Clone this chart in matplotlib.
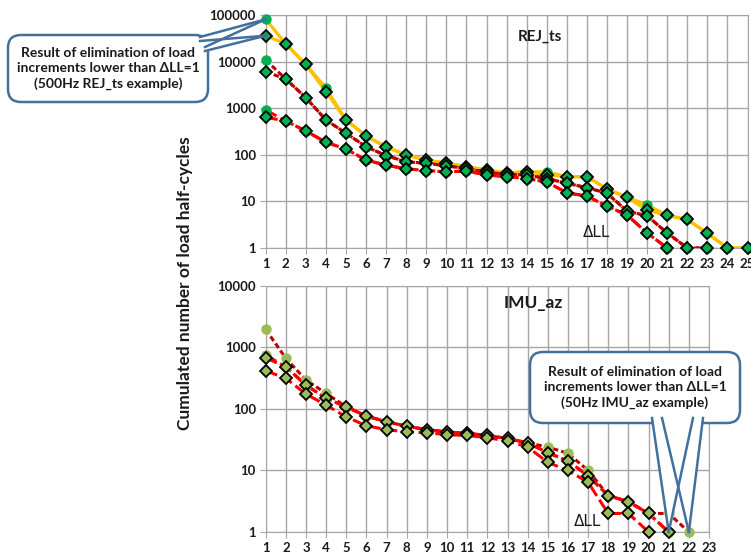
import numpy as np
import matplotlib
matplotlib.use("Agg")
import matplotlib.pyplot as plt
from matplotlib.patches import FancyBboxPatch, Polygon
from matplotlib.lines import Line2D
from matplotlib.transforms import IdentityTransform

plt.rcParams['font.family'] = ['Lato', 'DejaVu Sans']

# ---- REJ_ts (top panel) ----
rej_raw_a = [81000, 24000, 8700, 2700, 560, 253, 148, 99, 77, 66, 56, 47, 41, 43, 43,
             34, 34, 18.5, 12.2, 8.4, 5.0, 4.1, 2.07, 1, 1]
rej_flt_a = [36000, 24000, 8700, 2260, 560, 253, 148, 99, 77, 66, 56, 47, 41, 43, 37,
             34, 34, 18.5, 12.2, 6.5, 5.0, 4.1, 2.07, 1, 1]
rej_raw_b = [10800, 4230, 1680, 560, 290, 149, 96, 71, 66, 58, 51, 42, 38, 37, 31,
             24.5, 19.7, 15, 6.2, 4.9, 2.1, 1, 1]
rej_flt_b = [6070, 4230, 1680, 560, 290, 149, 96, 71, 66, 58, 51, 42, 38, 37, 31,
             24.5, 19.7, 15, 6.2, 4.9, 2.1, 1, 1]
rej_raw_c = [915, 530, 325, 185, 133, 77, 60, 50, 46, 43, 45, 37, 34, 31, 26,
             15.3, 13, 7.9, 5.1, 2.1, 1]
rej_flt_c = [640, 530, 325, 185, 133, 77, 60, 50, 46, 43, 45, 37, 34, 31, 26,
             15.3, 13, 7.9, 5.1, 2.1, 1]

# ---- IMU_az (bottom panel) ----
imu_raw_a = [1950, 660, 294, 178, 108, 76, 62, 52, 46, 42, 40, 37, 33, 28, 24,
             18.9, 10, 3.9, 3.1, 2.0, 2.0, 1]
imu_raw_b = [750, 480, 243, 148, 108, 76, 62, 52, 46, 42, 40, 37, 33, 28, 19.4,
             14.2, 8.2, 3.9, 3.1, 2.0, 1]
imu_flt_b = [675, 480, 243, 148, 108, 76, 62, 52, 46, 42, 40, 37, 33, 28, 19.4,
             14.2, 8.2, 3.9, 3.1, 2.0, 1]
imu_flt_c = [415, 313, 174, 115, 74, 53, 46, 42, 41, 38, 37, 34, 30, 24, 13.5,
             10, 6.4, 2.0, 2.0, 1]

top_ticks = [1, 10, 100, 1000, 10000, 100000]
bot_ticks = [1, 10, 100, 1000, 10000]

W, H = 751, 559
fig = plt.figure(figsize=(W / 100, H / 100), dpi=100)

GRID = '#a6a6a6'
TXT = '#1a1a1a'
ORANGE = '#ffc000'
DARKRED = '#c00000'
RED = '#ff0000'


def px_axes(x0, y0, x1, y1):
    # image pixel box (top-left origin) -> figure axes
    return fig.add_axes([x0 / W, 1 - y1 / H, (x1 - x0) / W, (y1 - y0) / H])


def style_axes(ax, nmax, yticks):
    ax.set_yscale('log')
    ax.set_xlim(1, nmax)
    ax.set_ylim(yticks[0], yticks[-1])
    ax.set_xticks(range(1, nmax + 1))
    ax.set_xticklabels([str(i) for i in range(1, nmax + 1)])
    ax.set_yticks(yticks)
    ax.set_yticklabels([str(v) for v in yticks])
    ax.yaxis.set_minor_locator(matplotlib.ticker.NullLocator())
    ax.grid(True, color=GRID, lw=1)
    ax.set_axisbelow(True)
    for s in ax.spines.values():
        s.set_color(GRID)
    ax.tick_params(length=4, color=GRID, labelcolor=TXT, labelsize=9.5, pad=3)
    for lab in ax.get_xticklabels() + ax.get_yticklabels():
        lab.set_fontweight('bold')


def draw(ax, vals, color, lw, dashes, marker, fc, z):
    x = np.arange(1, len(vals) + 1)
    if dashes is None:
        ax.plot(x, vals, color=color, lw=lw, solid_capstyle='round', zorder=2)
    else:
        ax.plot(x, vals, color=color, lw=lw, dashes=dashes, zorder=2)
    if marker == 'o':
        ax.plot(x, vals, ls='none', marker='o', ms=6.5, mfc=fc, mec=fc,
                zorder=z, clip_on=False)
    else:
        ax.plot(x, vals, ls='none', marker='D', ms=6.3, mfc=fc, mec='black',
                mew=1.3, zorder=z, clip_on=False)


ax1 = px_axes(265.7, 15, 747.5, 248)
style_axes(ax1, 25, top_ticks)
G1 = '#00b050'
draw(ax1, rej_raw_a, ORANGE, 2.3, None, 'o', G1, 4)
draw(ax1, rej_flt_a, ORANGE, 2.3, None, 'D', G1, 5)
draw(ax1, rej_raw_b, DARKRED, 2.2, (1.8, 1.0), 'o', G1, 4)
draw(ax1, rej_flt_b, DARKRED, 2.2, (1.8, 1.0), 'D', G1, 5)
draw(ax1, rej_raw_c, RED, 2.2, (4, 1.5), 'o', G1, 4)
draw(ax1, rej_flt_c, RED, 2.2, (4, 1.5), 'D', G1, 5)

ax2 = px_axes(265.7, 285.7, 709, 532)
style_axes(ax2, 23, bot_ticks)
G2 = '#9bbb59'
draw(ax2, imu_raw_a, DARKRED, 2.2, (1.8, 1.0), 'o', G2, 4)
draw(ax2, imu_raw_b, RED, 2.2, (4, 1.5), 'o', G2, 4)
draw(ax2, imu_flt_b, RED, 2.2, (4, 1.5), 'D', G2, 5)
draw(ax2, imu_flt_c, RED, 2.2, (4, 1.5), 'D', G2, 5)

fig.text(185 / W, 1 - 283 / H, 'Cumulated number of load half-cycles', rotation=90,
         ha='center', va='center', fontsize=12.5, fontweight='bold', color=TXT)
fig.text(540 / W, 1 - 37 / H, 'REJ_ts', ha='center', va='center', fontsize=11,
         fontweight='bold', color=TXT)
fig.text(533 / W, 1 - 303 / H, 'IMU_az', ha='center', va='center', fontsize=12.5,
         fontweight='bold', color=TXT)
fig.text(597 / W, 1 - 232 / H, 'ΔLL', ha='center', va='center', fontsize=11,
         color=TXT, family=['DejaVu Sans'])
fig.text(588 / W, 1 - 522 / H, 'ΔLL', ha='center', va='center', fontsize=11,
         color=TXT, family=['DejaVu Sans'])

BLUE = '#41719c'
ID = IdentityTransform()


def callout(x0, y0, x1, y1, text, wedges):
    # pixel box (top-left origin); wedges: list of (base pts, apex display pt)
    box = FancyBboxPatch((x0, H - y1), x1 - x0, y1 - y0,
                         boxstyle='round,pad=0,rounding_size=13', fc='white',
                         ec=BLUE, lw=1.8, transform=ID, zorder=10)
    fig.add_artist(box)
    for (bx0, by0), (bx1, by1), apex in wedges:
        p0 = (bx0, H - by0)
        p1 = (bx1, H - by1)
        poly = Polygon([p0, apex, p1], closed=True, fc='white', ec='none',
                       transform=ID, zorder=11)
        fig.add_artist(poly)
        for p in (p0, p1):
            fig.add_artist(Line2D([p[0], apex[0]], [p[1], apex[1]], color=BLUE,
                                  lw=1.8, transform=ID, zorder=12))
    fig.text(((x0 + x1) / 2) / W, 1 - ((y0 + y1) / 2) / H, text, ha='center',
             va='center', fontsize=10, fontweight='bold', color=TXT,
             linespacing=1.3, zorder=13)


a_circ = ax1.transData.transform((1, rej_raw_a[0]))
a_diam = ax1.transData.transform((1, rej_flt_a[0]))
callout(8, 35, 208, 102,
        'Result of elimination of load\nincrements lower than ΔLL=1\n(500Hz REJ_ts example)',
        [((200, 37), (205, 47), a_circ), ((200, 41), (205, 51), a_diam)])

b_diam = ax2.transData.transform((21, imu_flt_b[-1]))
b_circ = ax2.transData.transform((22, imu_raw_a[-1]))
callout(530, 352, 740, 423,
        'Result of elimination of load\nincrements lower than ΔLL=1\n(50Hz IMU_az example)',
        [((652, 418), (693, 418), b_diam), ((662, 418), (703, 418), b_circ)])

fig.savefig('out.png', dpi=100)
